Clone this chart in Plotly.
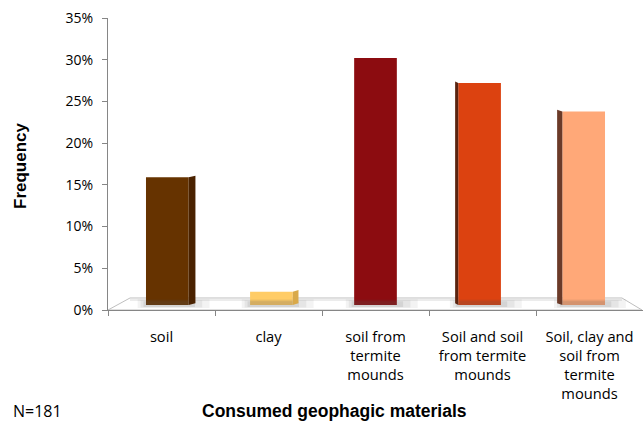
import plotly.graph_objects as go

# ---- data ----
categories = ["soil", "clay", "soil from<br>termite<br>mounds",
              "Soil and soil<br>from termite<br>mounds",
              "Soil, clay and<br>soil from<br>termite<br>mounds"]
frequency = [15.3, 1.6, 29.6, 26.6, 23.2]   # percent
front_colors = ["#663300", "#FFCC66", "#8C0C10", "#DC4210", "#FFA878"]
side_colors = ["#4A2200", "#D9A94A", "#5E0608", "#5A2410", "#6B3A28"]
side_dir = [1, 1, 0, -1, -1]
side_w = [0.065, 0.055, 0.0, 0.03, 0.05]
y_ticks = [0, 5, 10, 15, 20, 25, 30, 35]
y_ticktext = ["%d%%" % v for v in y_ticks]
n_label = "N=181"

W, H = 643, 427
ML, MR, MT, MB = 108, 0, 18, 117
pw = W - ML - MR
ph = H - MT - MB
BASE = H - MB  # pixel row of 0%

TICKFONT = "Open Sans, Lato, sans-serif"
TITLEFONT = "Liberation Sans, Arial, sans-serif"

fig = go.Figure()

# invisible trace to carry the category axis
fig.add_trace(go.Bar(x=categories, y=frequency, opacity=0,
                     marker=dict(color="rgba(0,0,0,0)", line=dict(width=0)),
                     hoverinfo="skip", showlegend=False, xaxis="x", yaxis="y"))

idx = list(range(len(categories)))
bw = 0.41

# shadows on floor
for i, v in enumerate(frequency):
    for k, (ext, op) in enumerate([(0.20, 0.07), (0.13, 0.09), (0.06, 0.12)]):
        x0 = i - bw / 2 - ext * 0.4
        x1 = i + bw / 2 + ext
        y0, y1 = -0.35 + k * 0.05, 0.7 - k * 0.12
        fig.add_trace(go.Scatter(x=[x0, x1, x1, x0, x0], y=[y0, y0, y1, y1, y0],
                                 fill="toself", mode="none",
                                 fillcolor="rgba(90,90,90,%.2f)" % op,
                                 hoverinfo="skip", showlegend=False,
                                 xaxis="x2", yaxis="y2"))

# side faces
for i, v in enumerate(frequency):
    d = side_dir[i]
    if d == 0:
        continue
    edge = i + d * bw / 2
    outer = edge + d * side_w[i]
    dy = 0.2
    fig.add_trace(go.Scatter(x=[edge, outer, outer, edge, edge],
                             y=[0, dy, v + dy, v, 0],
                             fill="toself", mode="none",
                             fillcolor=side_colors[i],
                             hoverinfo="skip", showlegend=False,
                             xaxis="x2", yaxis="y2"))

# front faces
fig.add_trace(go.Bar(x=idx, y=frequency, width=bw,
                     marker=dict(color=front_colors, line=dict(width=0)),
                     hoverinfo="skip", showlegend=False,
                     xaxis="x2", yaxis="y2"))

# floor
def px2paper(px, py):
    return (px - ML) / pw, (BASE - py) / ph

pts = [px2paper(108, 310), px2paper(642, 310), px2paper(622, 298), px2paper(130, 298)]
path = "M " + " L ".join("%.4f,%.4f" % p for p in pts) + " Z"
shapes = [dict(type="path", xref="paper", yref="paper", path=path,
               fillcolor="white", line=dict(color="#BFBFBF", width=1), layer="below")]
b1 = px2paper(130, 300)
b2 = px2paper(622, 300)
shapes.append(dict(type="line", xref="paper", yref="paper",
                   x0=b1[0], y0=b1[1], x1=b2[0], y1=b2[1],
                   line=dict(color="#D9D9D9", width=1), layer="below"))

fig.update_layout(
    width=W, height=H,
    margin=dict(l=ML, r=MR, t=MT, b=MB),
    paper_bgcolor="white", plot_bgcolor="rgba(0,0,0,0)",
    barmode="overlay",
    shapes=shapes,
    xaxis=dict(type="category", categoryorder="array", categoryarray=categories,
               range=[-0.5, len(categories) - 0.5],
               tickson="boundaries", ticks="outside", ticklen=5,
               tickcolor="#868686", showline=True, linecolor="#868686",
               showgrid=False, zeroline=False, fixedrange=True,
               ticklabelstandoff=13,
               tickfont=dict(family=TICKFONT, size=14.7, color="#000")),
    yaxis=dict(range=[0, 35], tickvals=y_ticks, ticktext=y_ticktext,
               ticks="outside", ticklen=5, tickcolor="#868686",
               showline=True, linecolor="#868686", showgrid=False, zeroline=False,
               ticklabelstandoff=6, fixedrange=True,
               tickfont=dict(family=TICKFONT, size=14, color="#000")),
    xaxis2=dict(overlaying="x", range=[-0.57, 4.57], visible=False, fixedrange=True),
    yaxis2=dict(overlaying="y", range=[-0.6, 34.4], visible=False, fixedrange=True),
    annotations=[
        dict(text="<b>Frequency</b>", textangle=-90, xref="paper", yref="paper",
             x=(20 - ML) / pw, y=(BASE - 166) / ph, showarrow=False,
             xanchor="center", yanchor="middle",
             font=dict(family=TITLEFONT, size=17, color="#000")),
        dict(text="<b>Consumed geophagic materials</b>", xref="paper", yref="paper",
             x=(334 - ML) / pw, y=(BASE - 411) / ph, showarrow=False,
             xanchor="center", yanchor="middle",
             font=dict(family=TITLEFONT, size=17.5, color="#000")),
        dict(text=n_label, xref="paper", yref="paper",
             x=(37 - ML) / pw, y=(BASE - 411) / ph, showarrow=False,
             xanchor="center", yanchor="middle",
             font=dict(family=TICKFONT, size=16, color="#000")),
    ],
)

fig.write_html("out.html", config={"displayModeBar": False},
               post_script="document.body.style.margin='0';")
